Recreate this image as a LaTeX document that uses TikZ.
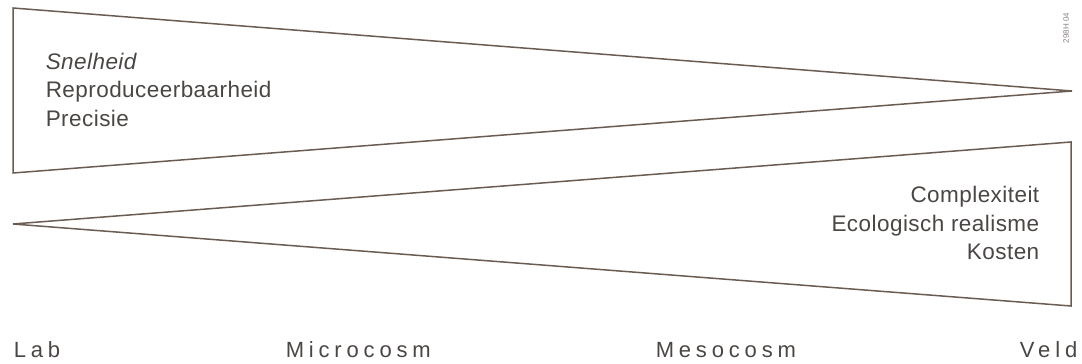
\documentclass[tikz,border=0pt]{standalone}
\usepackage{fontspec}
\setmainfont{Liberation Sans}
\newfontfamily\wideface[LetterSpace=22]{Liberation Sans}
\newfontfamily\termface[LetterSpace=2]{Liberation Sans}
\usetikzlibrary{calc}
\definecolor{wedgeInk}{HTML}{6A5C52}
\definecolor{textInk}{HTML}{4A4644}
\definecolor{tagInk}{HTML}{8A8480}

\begin{document}
\begin{tikzpicture}[
  x=1pt, y=1pt,
  line width=1.5pt,
  every node/.style={inner sep=0pt},
  % --- Reusable styles -------------------------------------------------------
  wedge/.style={draw=wedgeInk, line join=miter},
  term/.style={text=textInk, font=\termface\fontsize{22.5}{26}\selectfont},
  scalelbl/.style={text=textInk, font=\wideface\fontsize{22}{26}\selectfont, anchor=base west},
  tag/.style={text=tagInk, font=\fontsize{8}{9}\selectfont, rotate=90},
]
\useasboundingbox (0,0) rectangle (1082,364);

% --- Wedge corners (y measured up from the bottom) ----------------------------
\coordinate (topNW)   at (13,356);
\coordinate (topSW)   at (13,191);
\coordinate (topTip)  at (1072,273);
\coordinate (botTip)  at (13,140);
\coordinate (botNE)   at (1071,222);
\coordinate (botSE)   at (1071,58);

% --- Wedges -------------------------------------------------------------------
\draw[wedge] (topNW) -- (topTip) -- (topSW) -- cycle;
\draw[wedge] (botTip) -- (botNE) -- (botSE) -- cycle;

% --- Properties that decrease towards the field --------------------------------
\node[term, anchor=base west] (snel)  at (45,294) {\itshape Snelheid};
\node[term, anchor=base west] (repro) at (45,266) {Reproduceerbaarheid};
\node[term, anchor=base west] (prec)  at (45,237) {Precisie};

% --- Properties that increase towards the field --------------------------------
\node[term, anchor=base east] (compl) at (1040,161) {Complexiteit};
\node[term, anchor=base east] (eco)   at (1040,132) {Ecologisch realisme};
\node[term, anchor=base east] (kost)  at (1040,104) {Kosten};

% --- Scale along the bottom ---------------------------------------------------
\node[scalelbl] (lab)   at (13,6)  {Lab};
\node[scalelbl] (micro) at (285,6) {Microcosm};
\node[scalelbl] (meso)  at (655,6) {Mesocosm};
\node[scalelbl, anchor=base east] (veld) at (1078,6) {Veld};

% --- Figure code ----------------------------------------------------------------
\node[tag] (figcode) at (1066,336) {298H 04};

\end{tikzpicture}
\end{document}
